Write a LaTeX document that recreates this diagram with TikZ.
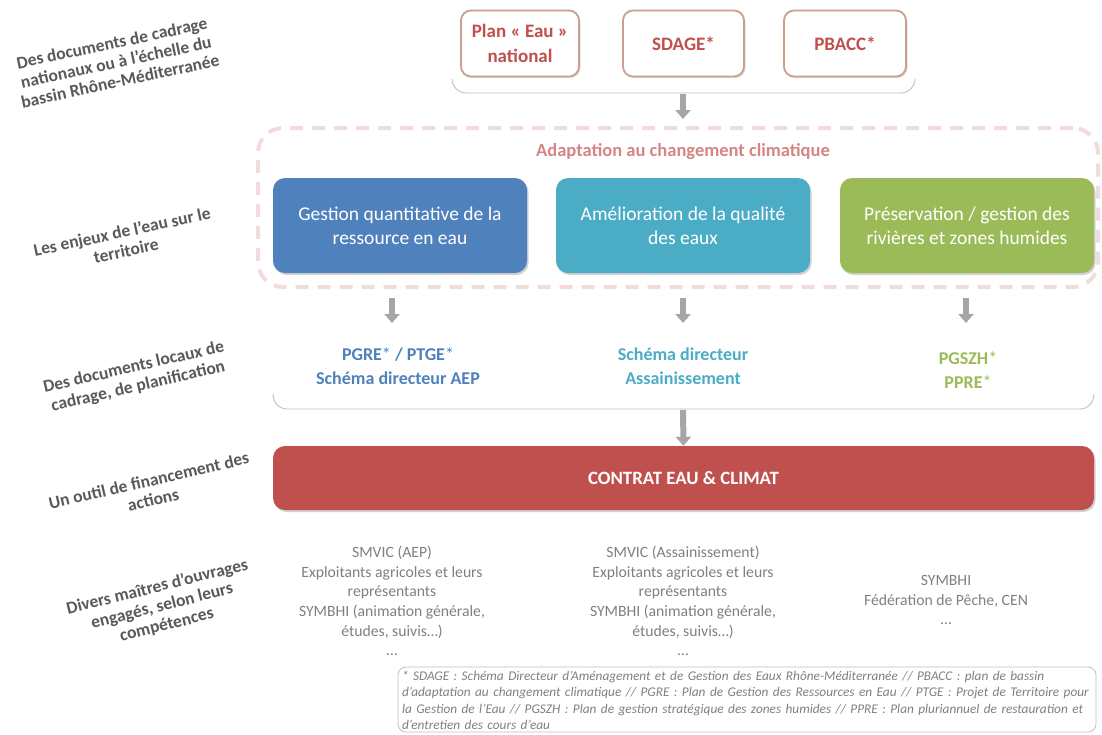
\documentclass[tikz,border=0pt]{standalone}
\usepackage{fontspec}
\setmainfont{Carlito}
\usetikzlibrary{arrows.meta,shadows}
\definecolor{cred}{HTML}{C0504D}
\definecolor{cblue}{HTML}{4F81BD}
\definecolor{cteal}{HTML}{4BACC6}
\definecolor{cgreen}{HTML}{9BBB59}
\definecolor{cpink}{HTML}{F2DCDB}
\definecolor{cadapt}{HTML}{D38684}
\definecolor{clabel}{HTML}{595959}
\definecolor{cgraytxt}{HTML}{808080}
\definecolor{carrow}{HTML}{A6A6A6}
\definecolor{cbrace}{HTML}{BFBFBF}
\definecolor{ctopborder}{HTML}{C9A08C}
\tikzset{
  topbox/.style={draw=ctopborder, line width=1.8pt, fill=white, rounded corners=10pt,
    minimum width=118pt, minimum height=66pt, align=center, text=cred,
    font=\fontsize{19}{25}\selectfont\bfseries,
    drop shadow={opacity=0.25, shadow xshift=1.5pt, shadow yshift=-1.5pt}},
  enjeu/.style={rounded corners=12pt, minimum width=254pt, minimum height=95pt,
    align=center, text=white, font=\fontsize{19.5}{24}\selectfont,
    drop shadow={opacity=0.35, shadow xshift=1.5pt, shadow yshift=-2pt}},
  sidelabel/.style={align=center, text=clabel, font=\fontsize{17.5}{19.5}\selectfont\bfseries},
  bigarrow/.style={draw=carrow, line width=6pt, -{Triangle[width=15pt,length=9pt]}},
  bracket/.style={draw=cbrace, line width=0.9pt},
  doc/.style={align=center, font=\fontsize{18}{24}\selectfont\bfseries},
  actors/.style={align=center, text=cgraytxt, font=\fontsize{15.7}{19.7}\selectfont},
}
\begin{document}
\begin{tikzpicture}[x=1pt,y=-1pt]
\path[use as bounding box, fill=white] (0,0) rectangle (1102,734);

% side labels
\node[sidelabel, rotate=12] (l1) at (116,62) {Des documents de cadrage\\nationaux ou à l’échelle du\\bassin Rhône-Méditerranée};
\node[sidelabel, rotate=12] (l2) at (124,241) {Les enjeux de l’eau sur le\\territoire};
\node[sidelabel, rotate=13] (l3) at (136,377) {Des documents locaux de\\cadrage, de planification};
\node[sidelabel, rotate=13] (l4) at (151,490) {Un outil de financement des\\actions};
\node[sidelabel, rotate=14] (l5) at (162,606) {Divers maîtres d’ouvrages\\engagés, selon leurs\\compétences};

% top boxes
\node[topbox] (plan) at (520,43.5) {Plan « Eau »\\national};
\node[topbox, minimum width=121pt] (sdage) at (683.5,43.5) {SDAGE*};
\node[topbox, minimum width=122pt] (pbacc) at (845,43.5) {PBACC*};

% bracket under top boxes
\coordinate (tbl) at (452,79);
\coordinate (tbr) at (915,79);
\coordinate (tbm) at (683,94);
\draw[bracket] (tbl) to[out=-90,in=180] (466,93) -- (901,93) to[out=0,in=-90] (tbr);

% dashed frame
\node[draw=cpink, line width=4pt, dash pattern=on 13pt off 9pt, rounded corners=25pt,
  minimum width=840pt, minimum height=159pt] (frame) at (678,207.5) {};
\node[text=cadapt, font=\fontsize{18.5}{20}\selectfont\bfseries] (adapt) at (683,152) {Adaptation au changement climatique};

\draw[bigarrow] (tbm) -- (683,119);

% enjeux
\node[enjeu, fill=cblue] (e1) at (400,225.5) {Gestion quantitative de la\\ressource en eau};
\node[enjeu, fill=cteal] (e2) at (683,225.5) {Amélioration de la qualité\\des eaux};
\node[enjeu, fill=cgreen] (e3) at (967,225.5) {Préservation / gestion des\\rivières et zones humides};

% small arrows
\coordinate (a1s) at (392,298); \coordinate (a1e) at (392,323);
\coordinate (a2s) at (683,298); \coordinate (a2e) at (683,323);
\coordinate (a3s) at (966,298); \coordinate (a3e) at (966,323);
\draw[bigarrow] (a1s) -- (a1e);
\draw[bigarrow] (a2s) -- (a2e);
\draw[bigarrow] (a3s) -- (a3e);

% local documents
\node[doc, text=cblue] (d1) at (398,366) {PGRE{\mdseries*} / PTGE{\mdseries*}\\Schéma directeur AEP};
\node[doc, text=cteal] (d2) at (683,366) {Schéma directeur\\Assainissement};
\node[doc, text=cgreen] (d3) at (968,370) {PGSZH{\mdseries*}\\PPRE{\mdseries*}};

% bracket
\coordinate (mbl) at (273,394);
\coordinate (mbr) at (1094,394);
\coordinate (mbm) at (683,410);
\draw[bracket] (mbl) to[out=-90,in=180] (287,409) -- (1080,409) to[out=0,in=-90] (mbr);

% contrat
\node[fill=cred, rounded corners=12pt, minimum width=821pt, minimum height=64pt,
  text=white, font=\fontsize{18.8}{22}\selectfont\bfseries,
  drop shadow={opacity=0.35, shadow xshift=1.5pt, shadow yshift=-2pt}] (contrat) at (683.5,478) {CONTRAT EAU \& CLIMAT};
\draw[bigarrow] (mbm) -- (contrat.north);

% actors
\node[actors] (m1) at (392,601) {SMVIC (AEP)\\Exploitants agricoles et leurs\\représentants\\SYMBHI (animation générale,\\études, suivis…)\\…};
\node[actors] (m2) at (683,601) {SMVIC (Assainissement)\\Exploitants agricoles et leurs\\représentants\\SYMBHI (animation générale,\\études, suivis…)\\…};
\node[actors] (m3) at (946,600) {SYMBHI\\Fédération de Pêche, CEN\\…};

% footnote
\node[draw=cbrace, line width=0.8pt, rounded corners=8pt, minimum width=698pt, minimum height=65pt] (fnbox) at (747,699.5) {};
\node[text width=690pt, align=left, text=cgraytxt, inner sep=0pt,
  font=\fontsize{13.3}{16.5}\selectfont\itshape] (fn) at (747,700.5) {* SDAGE : Schéma Directeur d’Aménagement et de Gestion des Eaux Rhône-Méditerranée // PBACC : plan de bassin\\d’adaptation au changement climatique // PGRE : Plan de Gestion des Ressources en Eau // PTGE : Projet de Territoire pour\\la Gestion de l’Eau // PGSZH : Plan de gestion stratégique des zones humides // PPRE : Plan pluriannuel de restauration et\\d’entretien des cours d’eau};
\end{tikzpicture}
\end{document}
